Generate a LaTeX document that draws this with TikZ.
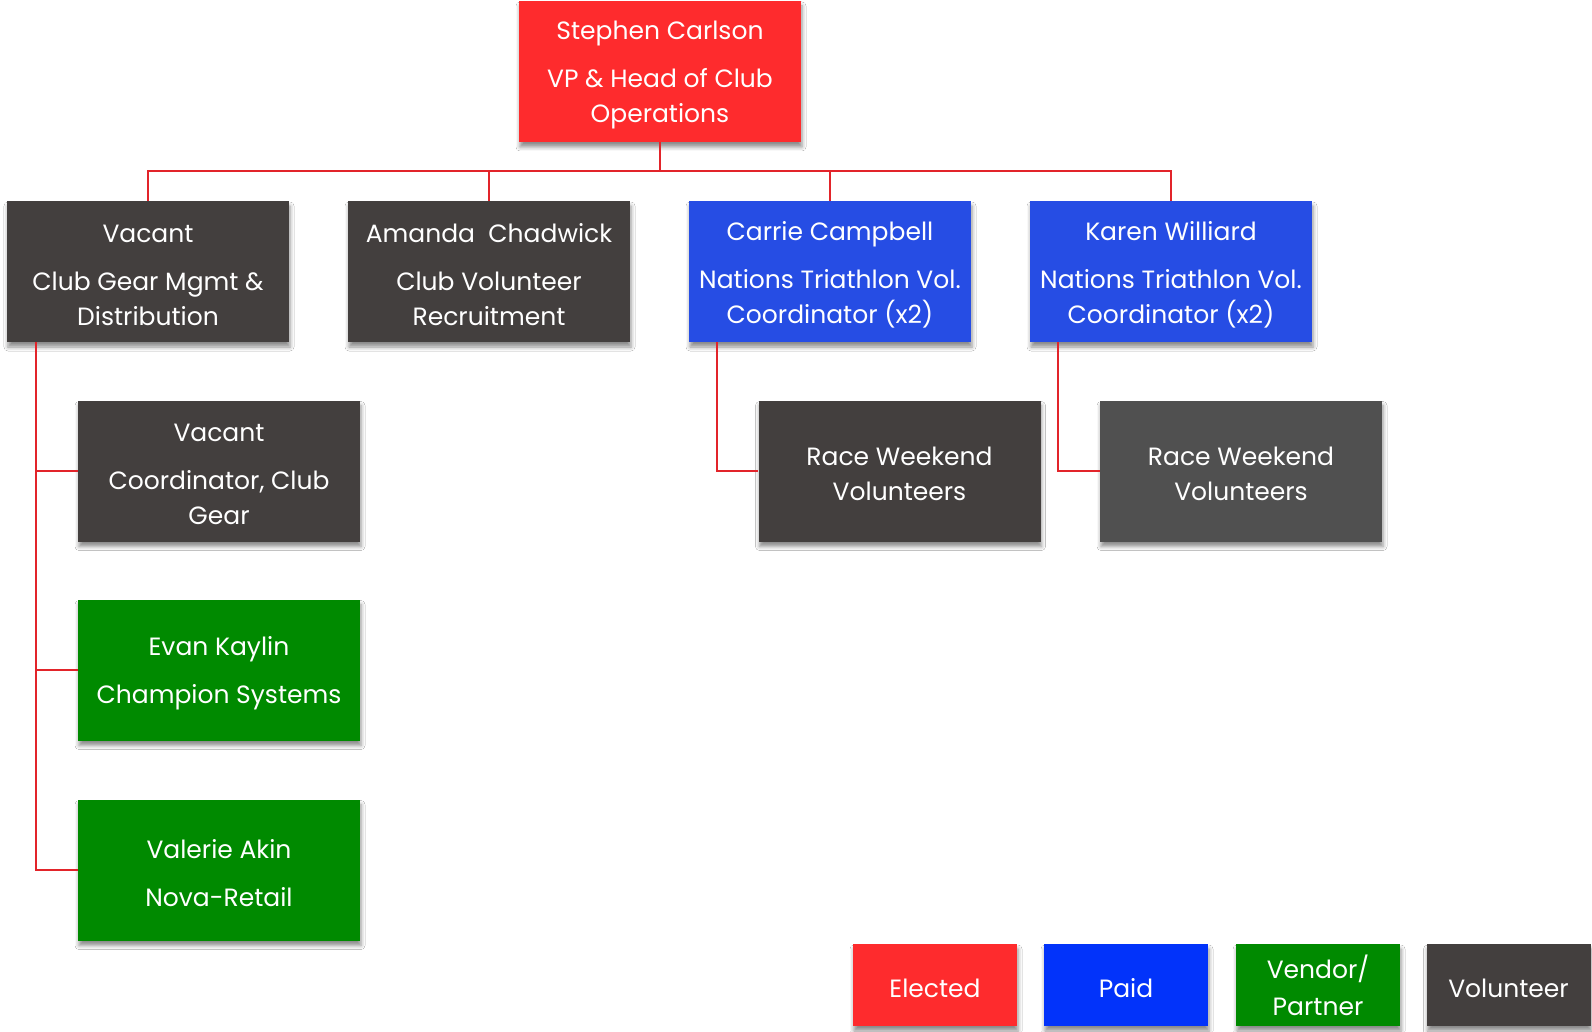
\documentclass[tikz,border=0pt]{standalone}
\usepackage{fontspec}
\setmainfont{Poppins}
\usetikzlibrary{shadows.blur,calc}
\definecolor{elected}{RGB}{254,43,45}
\definecolor{paidbox}{RGB}{38,77,228}
\definecolor{paidkey}{RGB}{2,51,250}
\definecolor{vendor}{RGB}{0,138,0}
\definecolor{volunteer}{RGB}{67,63,62}
\definecolor{volunteerlt}{RGB}{80,80,80}
\definecolor{link}{RGB}{226,36,42}
% taller first line so each text block sits a little lower in its box
\newcommand\lift{\rule{0pt}{25pt}}
\tikzset{
  card/.style={rectangle, inner sep=0pt, minimum width=282pt, minimum height=141pt,
    text=white, align=center, font=\fontsize{25}{35}\selectfont,
    blur shadow={shadow xshift=1pt, shadow yshift=-5pt, shadow blur radius=4pt, shadow opacity=45}},
  keybox/.style={card, minimum width=164pt, minimum height=82pt},
  wire/.style={draw=link, line width=2pt}
}
\begin{document}
\begin{tikzpicture}[x=1pt,y=-1pt]
\useasboundingbox[fill=white] (0,0) rectangle (1592,1032);

% top level
\node[card, fill=elected] (head) at (660,71.5) {\lift Stephen Carlson\\[13pt]VP \& Head of Club\\Operations};

% second level
\node[card, fill=volunteer] (gear) at (148,271.5) {\lift Vacant\\[13pt]Club Gear Mgmt \&\\Distribution};
\node[card, fill=volunteer] (recruit) at (489,271.5) {\lift Amanda\ \ Chadwick\\[13pt]Club Volunteer\\Recruitment};
\node[card, fill=paidbox] (carrie) at (830,271.5) {\lift Carrie Campbell\\[13pt]Nations Triathlon Vol.\\Coordinator (x2)};
\node[card, fill=paidbox] (karen) at (1171,271.5) {\lift Karen Williard\\[13pt]Nations Triathlon Vol.\\Coordinator (x2)};

% gear branch
\node[card, fill=volunteer] (coord) at (219,471) {\lift Vacant\\[13pt]Coordinator, Club\\Gear};
\node[card, fill=vendor] (evan) at (219,670) {\lift Evan Kaylin\\[13pt]Champion Systems};
\node[card, fill=vendor] (valerie) at (219,870) {\lift Valerie Akin\\[13pt]Nova-Retail};

% race weekend volunteers
\node[card, fill=volunteer] (race1) at (899.5,471) {\lift Race Weekend\\Volunteers};
\node[card, fill=volunteerlt] (race2) at (1241,471) {\lift Race Weekend\\Volunteers};

% key
\node[keybox, fill=elected] (kelected) at (935,985) {\lift Elected};
\node[keybox, fill=paidkey] (kpaid) at (1126,985) {\lift Paid};
\node[keybox, fill=vendor] (kvendor) at (1318,985) {\lift Vendor/\\[2pt]Partner};
\node[keybox, fill=volunteer] (kvol) at (1508.5,985) {\lift Volunteer};

% connectors
\coordinate (bus) at ($(head.south)+(0,29)$);
\draw[wire] (head.south) -- (bus);
\draw[wire] (gear.north) |- (bus);
\draw[wire] (recruit.north) |- (bus);
\draw[wire] (carrie.north) |- (bus);
\draw[wire] (karen.north) |- (bus);

\coordinate (gtap) at ($(gear.south west)+(29,0)$);
\draw[wire] (gtap) |- (coord.west);
\draw[wire] (gtap) |- (evan.west);
\draw[wire] (gtap) |- (valerie.west);

\coordinate (ctap) at ($(carrie.south west)+(28,0)$);
\draw[wire] (ctap) |- (race1.west);
\coordinate (ktap) at ($(karen.south west)+(28,0)$);
\draw[wire] (ktap) |- (race2.west);
\end{tikzpicture}
\end{document}
